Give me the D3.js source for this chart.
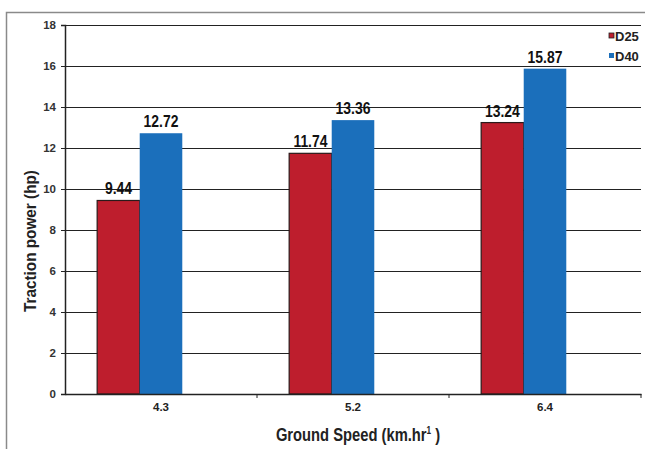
<!DOCTYPE html>
<html>
<head>
<meta charset="utf-8">
<script src="https://cdn.jsdelivr.net/npm/d3@7"></script>
<style>
  body { margin: 0; background: #fff; }
  text { font-family: "Liberation Sans Narrow", "Arial Narrow", "Liberation Sans", Arial, sans-serif; font-weight: bold; }
</style>
</head>
<body>
<div id="chart"></div>
<script>
	// data
	var categories = ["4.3", "5.2", "6.4"];
	var seriesNames = ["D25", "D40"];
	var d25 = [9.44, 11.74, 13.24];
	var d40 = [12.72, 13.36, 15.87];
	var yTicks = [0, 2, 4, 6, 8, 10, 12, 14, 16, 18];
	var colors = ["#be1e2d", "#1b6fbb"];

	var wi = 645, he = 449;
	var pLeft = 65, pRight = 641, pTop = 25, pBottom = 394;
	var narrow = 0.82; // squeeze text, no narrow font installed

	var svg = d3.select("#chart").append("svg")
		.attr("width", wi)
		.attr("height", he);

	// outer frame (left + top edges visible)
	svg.append("path")
		.attr("d", "M6.5," + he + "V12.5H" + wi)
		.attr("fill", "none")
		.attr("stroke", "#8a8a8a")
		.attr("stroke-width", 1.5);

	var x = d3.scaleBand().domain(categories).range([pLeft, pRight]);
	// three slots per group, the third one stays empty as in the original
	var xs = d3.scaleBand().domain(seriesNames.concat([""]))
		.range([0, x.bandwidth() * 0.665]);
	var groupOff = (x.bandwidth() - xs.range()[1]) / 2;
	var y = d3.scaleLinear().domain([0, 18]).range([pBottom, pTop]);

	// gridlines
	svg.append("g").selectAll("line")
		.data(yTicks.slice(1))
		.enter().append("line")
		.attr("x1", pLeft).attr("x2", pRight)
		.attr("y1", function(d) { return y(d) + 0.5; })
		.attr("y2", function(d) { return y(d) + 0.5; })
		.attr("stroke", "#222")
		.attr("stroke-width", 1);

	var rows = categories.map(function(c, i) { return [d25[i], d40[i]]; });

	var groups = svg.selectAll("g.grp")
		.data(rows)
		.enter().append("g")
		.attr("class", "grp")
		.attr("transform", function(d, i) { return "translate(" + (x(categories[i]) + groupOff) + ",0)"; });

	groups.selectAll("rect")
		.data(function(d) { return d.map(function(v, j) { return {v: v, s: seriesNames[j], j: j}; }); })
		.enter().append("rect")
		.attr("x", function(d) { return xs(d.s); })
		.attr("y", function(d) { return y(d.v); })
		.attr("width", xs.bandwidth())
		.attr("height", function(d) { return pBottom - y(d.v); })
		.attr("fill", function(d) { return colors[d.j]; })
		.attr("stroke", function(d) { return d.j == 0 ? "#2a1a1a" : "none"; })
		.attr("stroke-width", 1.2);

	groups.selectAll("text")
		.data(function(d) { return d.map(function(v, j) { return {v: v, s: seriesNames[j]}; }); })
		.enter().append("text")
		.attr("transform", function(d) {
			return "translate(" + (xs(d.s) + xs.bandwidth() / 2) + "," + (y(d.v) - 6) + ") scale(" + narrow + ",1)";
		})
		.attr("text-anchor", "middle")
		.attr("font-size", "17px")
		.attr("fill", "#111")
		.text(function(d) { return d.v.toFixed(2); });

	// y axis
	var yAxis = svg.append("g")
		.attr("transform", "translate(" + pLeft + ",0)")
		.call(d3.axisLeft(y).tickValues(yTicks).tickSize(4).tickPadding(5));
	yAxis.select(".domain").attr("stroke", "#222").attr("stroke-width", 1.5);
	yAxis.selectAll(".tick line").attr("stroke", "#222");
	yAxis.selectAll("text")
		.attr("font-size", "11.5px")
		.attr("fill", "#333")
		.style("font-family", "Liberation Sans, Arial, sans-serif");

	// x axis
	var xAxis = svg.append("g")
		.attr("transform", "translate(0," + pBottom + ")")
		.call(d3.axisBottom(x).tickSize(0).tickPadding(9));
	xAxis.select(".domain").attr("stroke", "#222").attr("stroke-width", 1.5);
	xAxis.selectAll("text")
		.attr("font-size", "11.5px")
		.attr("fill", "#222")
		.style("font-family", "Liberation Sans, Arial, sans-serif");
	// tick marks between categories
	xAxis.selectAll("line.sep")
		.data(categories)
		.enter().append("line")
		.attr("class", "sep")
		.attr("x1", function(d) { return x(d) + x.bandwidth(); })
		.attr("x2", function(d) { return x(d) + x.bandwidth(); })
		.attr("y1", 0).attr("y2", 4)
		.attr("stroke", "#222");

	// axis titles
	svg.append("text")
		.attr("transform", "translate(36,241) rotate(-90) scale(0.9,1)")
		.attr("text-anchor", "middle")
		.attr("font-size", "17px")
		.attr("fill", "#222")
		.text("Traction power (hp)");

	var xt = svg.append("text")
		.attr("transform", "translate(358,441) scale(" + narrow + ",1)")
		.attr("text-anchor", "middle")
		.attr("font-size", "18px")
		.attr("fill", "#222");
	xt.append("tspan").text("Ground Speed (km.hr");
	xt.append("tspan").attr("font-size", "10px").attr("dy", -7).text("1");
	xt.append("tspan").attr("dy", 7).text(" )");

	// legend
	var leg = svg.selectAll("g.leg")
		.data(seriesNames)
		.enter().append("g")
		.attr("class", "leg")
		.attr("transform", function(d, i) { return "translate(609," + (36 + i * 20) + ")"; });
	leg.append("rect")
		.attr("x", 0).attr("y", -3)
		.attr("width", 5).attr("height", 5)
		.attr("fill", function(d, i) { return colors[i]; })
		.attr("stroke", function(d, i) { return i == 0 ? "#222" : "none"; })
		.attr("stroke-width", 0.8);
	leg.append("text")
		.attr("x", 6).attr("y", 4.5)
		.attr("font-size", "13px")
		.attr("fill", "#222")
		.text(function(d) { return d; });
</script>
</body>
</html>
